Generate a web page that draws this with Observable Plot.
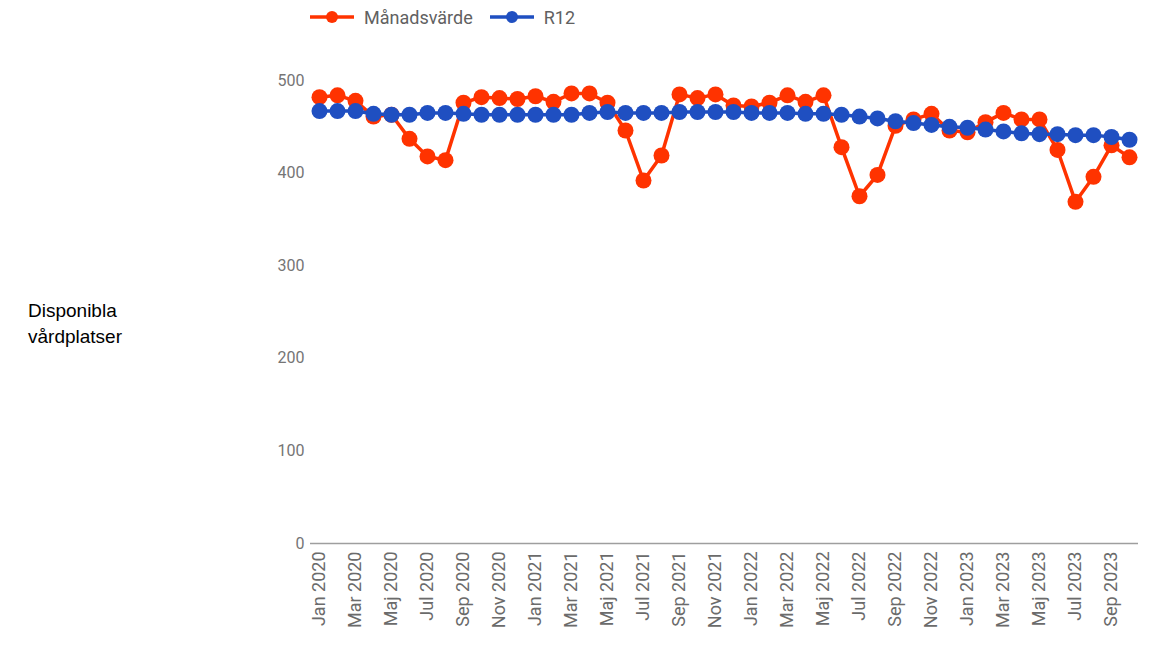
<!DOCTYPE html>
<html>
<head>
<meta charset="utf-8">
<script src="https://cdn.jsdelivr.net/npm/d3@7"></script>
<script src="https://cdn.jsdelivr.net/npm/@observablehq/plot@0.6"></script>
<style>
  html, body { margin: 0; padding: 0; background: #fff; }
  #wrap { position: relative; width: 1165px; height: 646px; overflow: hidden; }
  #chart { position: absolute; left: 0; top: 0; }
  #legend { position: absolute; left: 310px; top: 6px; display: flex; align-items: center;
            font-family: Roboto, "Noto Sans", sans-serif; font-size: 18px; color: #616161; }
  #legend .item { display: flex; align-items: center; margin-right: 17px; }
  #legend svg { margin-right: 10px; }
  #ylabel { position: absolute; left: 28px; top: 298px; font-family: "Liberation Sans", Arial, sans-serif;
            font-size: 19px; line-height: 26px; color: #000; }
</style>
</head>
<body>
<div id="wrap">
  <div id="chart"></div>
  <div id="legend"></div>
  <div id="ylabel">Disponibla<br>vårdplatser</div>
</div>
<script>
const months = [
  "Jan 2020","Feb 2020","Mar 2020","Apr 2020","Maj 2020","Jun 2020","Jul 2020","Aug 2020","Sep 2020","Okt 2020","Nov 2020","Dec 2020",
  "Jan 2021","Feb 2021","Mar 2021","Apr 2021","Maj 2021","Jun 2021","Jul 2021","Aug 2021","Sep 2021","Okt 2021","Nov 2021","Dec 2021",
  "Jan 2022","Feb 2022","Mar 2022","Apr 2022","Maj 2022","Jun 2022","Jul 2022","Aug 2022","Sep 2022","Okt 2022","Nov 2022","Dec 2022",
  "Jan 2023","Feb 2023","Mar 2023","Apr 2023","Maj 2023","Jun 2023","Jul 2023","Aug 2023","Sep 2023","Okt 2023"
];
const manadsvarde = [
  482, 484, 478, 461, 463, 437, 418, 414, 476, 482, 481, 480,
  483, 477, 486, 486, 476, 446, 392, 419, 485, 481, 485, 473,
  472, 476, 484, 477, 484, 428, 375, 398, 451, 458, 464, 446,
  444, 455, 465, 458, 458, 425, 369, 396, 430, 417
];
const r12 = [
  467, 467, 467, 464, 463, 463, 465, 465, 464, 463, 463, 463,
  463, 463, 463, 465, 466, 465, 465, 465, 466, 466, 466, 466,
  465, 465, 465, 464, 464, 463, 461, 459, 456, 454, 452, 450,
  449, 447, 445, 443, 442, 442, 441, 441, 439, 436
];
const seriesNames = ["Månadsvärde", "R12"];
const seriesColors = ["#ff3300", "#1f4fc1"];
const yTicks = [0, 100, 200, 300, 400, 500];
const xTicks = months.filter((d, i) => i % 2 === 0);

const manadData = months.map((m, i) => ({month: m, value: manadsvarde[i]}));
const r12Data = months.map((m, i) => ({month: m, value: r12[i]}));

const chart = Plot.plot({
  width: 1165,
  height: 646,
  marginLeft: 310,
  marginRight: 27,
  marginTop: 80,
  marginBottom: 103,
  style: {fontFamily: "Roboto, 'Noto Sans', sans-serif", background: "transparent"},
  x: {type: "point", domain: months, padding: 0.5},
  y: {domain: [0, 500]},
  marks: [
    Plot.ruleY([0], {stroke: "#9e9e9e", strokeWidth: 1.5}),
    Plot.axisY({ticks: yTicks, tickSize: 0, tickPadding: 6, label: null, fontSize: 16, color: "#757575"}),
    Plot.axisX({ticks: xTicks, tickSize: 0, tickPadding: 8, tickRotate: -90, label: null, fontSize: 18, color: "#6b6b6b"}),
    Plot.line(manadData, {x: "month", y: "value", stroke: seriesColors[0], strokeWidth: 3.5}),
    Plot.dot(manadData, {x: "month", y: "value", r: 8, fill: seriesColors[0]}),
    Plot.line(r12Data, {x: "month", y: "value", stroke: seriesColors[1], strokeWidth: 3.5}),
    Plot.dot(r12Data, {x: "month", y: "value", r: 8, fill: seriesColors[1]})
  ]
});
document.getElementById("chart").appendChild(chart);

const legend = document.getElementById("legend");
seriesNames.forEach((name, i) => {
  const item = document.createElement("div");
  item.className = "item";
  item.innerHTML = `<svg width="44" height="22"><line x1="0" y1="11" x2="44" y2="11" stroke="${seriesColors[i]}" stroke-width="3.5"/><circle cx="22" cy="11" r="6" fill="${seriesColors[i]}"/></svg><span>${name}</span>`;
  legend.appendChild(item);
});
</script>
</body>
</html>
